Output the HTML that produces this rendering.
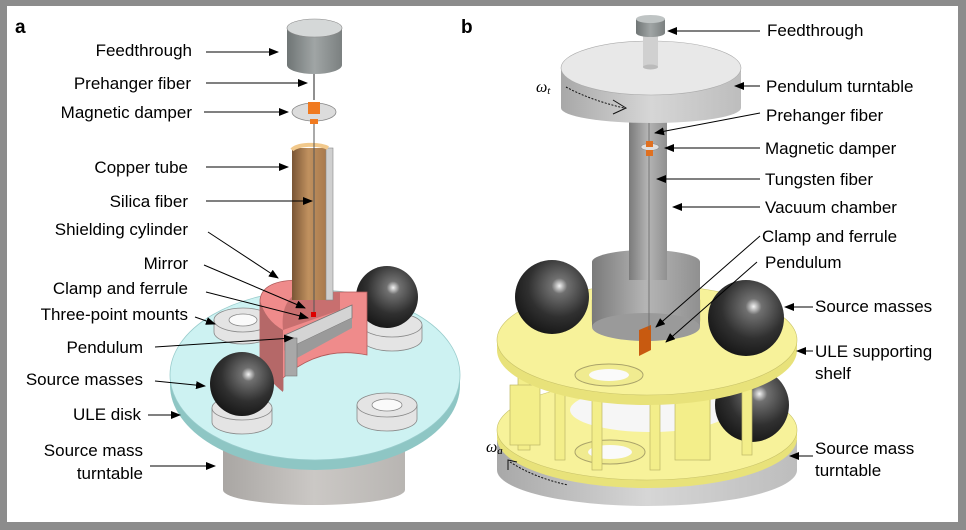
<!DOCTYPE html>
<html><head><meta charset="utf-8"><style>
html,body{margin:0;padding:0;background:#8c8c8c;}
svg{display:block;}
text{font-family:"Liberation Sans",sans-serif;font-size:17px;fill:#000;}
</style></head><body>
<svg width="966" height="530" viewBox="0 0 966 530" xmlns="http://www.w3.org/2000/svg">
<defs>
<marker id="ar" markerWidth="10" markerHeight="8" refX="9" refY="4" orient="auto" markerUnits="userSpaceOnUse"><path d="M0,0 L10,4 L0,8 z" fill="#000"/></marker>
<radialGradient id="sph" cx="0.6" cy="0.35" r="0.7"><stop offset="0" stop-color="#f4f4f4"/><stop offset="0.15" stop-color="#707070"/><stop offset="0.6" stop-color="#303030"/><stop offset="1" stop-color="#151515"/></radialGradient>
<linearGradient id="gcyl" x1="0" x2="1"><stop offset="0" stop-color="#6f7575"/><stop offset="0.5" stop-color="#a0a5a5"/><stop offset="1" stop-color="#7b8080"/></linearGradient>
<linearGradient id="gside" x1="0" x2="1"><stop offset="0" stop-color="#a8a8a8"/><stop offset="0.5" stop-color="#d6d6d6"/><stop offset="1" stop-color="#bdbdbd"/></linearGradient>
<linearGradient id="gbase" x1="0" x2="1"><stop offset="0" stop-color="#a9a6a3"/><stop offset="0.5" stop-color="#cbc8c5"/><stop offset="1" stop-color="#b8b5b2"/></linearGradient>
<linearGradient id="gtube" x1="0" x2="1"><stop offset="0" stop-color="#7a7a7a"/><stop offset="0.5" stop-color="#b5b5b5"/><stop offset="1" stop-color="#909090"/></linearGradient>
<linearGradient id="gcu" x1="0" x2="1"><stop offset="0" stop-color="#7a5535"/><stop offset="0.4" stop-color="#c0915f"/><stop offset="1" stop-color="#a07045"/></linearGradient>
</defs>
<rect x="7" y="6" width="951" height="516" fill="#fff"/>

<!-- ===== Panel a ===== -->
<text x="15" y="33" style="font-weight:bold;font-size:19px">a</text>
<path d="M223,415 L223,490 A91,15 0 0 0 405,490 L405,415 z" fill="url(#gbase)"/>
<path d="M170,375 L170,385 A145,85 0 0 0 460,385 L460,375 z" fill="#8ec6c4"/>
<ellipse cx="315" cy="375" rx="145" ry="85" fill="#cdf2f2" stroke="#9cc" stroke-width="0.8"/>
<g fill="#e4e4e4" stroke="#888" stroke-width="0.8">
<path d="M214,320 v12 a29,12 0 0 0 58,0 v-12 z"/><ellipse cx="243" cy="320" rx="29" ry="12"/><ellipse cx="243" cy="320" rx="14" ry="6" fill="#fafafa"/>
<path d="M362,325 v14 a30,12 0 0 0 60,0 v-14 z"/><ellipse cx="392" cy="325" rx="30" ry="12"/>
<path d="M212,408 v14 a30,12 0 0 0 60,0 v-14 z"/><ellipse cx="242" cy="408" rx="30" ry="12"/>
<path d="M357,405 v14 a30,12 0 0 0 60,0 v-14 z"/><ellipse cx="387" cy="405" rx="30" ry="12"/><ellipse cx="387" cy="405" rx="15" ry="6" fill="#fafafa"/>
</g>
<circle cx="387" cy="297" r="31" fill="url(#sph)"/>
<path d="M260,300 Q262,280 300,280 L300,292 L367,292 L367,355 Q320,345 283,378 L283,390 Q265,375 260,360 z" fill="#ef8b8b" stroke="#b05a5a" stroke-width="0.8"/>
<path d="M260,300 L260,360 Q265,378 283,392 L283,330 Q265,320 260,300 z" fill="#b56868"/>
<path d="M300,292 Q280,300 283,330 L340,310 L340,292 z" fill="#c86f6f"/>
<path d="M292,148 L292,300 L333,300 L333,148 z" fill="url(#gcu)"/>
<rect x="326" y="148" width="7" height="152" fill="#cfcfcf" stroke="#888" stroke-width="0.6"/>
<path d="M292,150 A20,7 0 0 1 328,148" fill="none" stroke="#f2c98c" stroke-width="4"/>
<line x1="314" y1="120" x2="314" y2="315" stroke="#555" stroke-width="1"/>
<path d="M285,335 L352,305 L352,318 L285,350 z" fill="#d4d4d4" stroke="#777" stroke-width="0.8"/>
<path d="M285,350 L352,318 L352,328 L297,358 L285,375 z" fill="#9a9a9a"/>
<rect x="285" y="338" width="12" height="38" fill="#a8a8a8" stroke="#777" stroke-width="0.6"/>
<rect x="311" y="312" width="5" height="5" fill="#d00"/>
<circle cx="242" cy="384" r="32" fill="url(#sph)"/>
<path d="M287,28 L287,65 A27.5,9 0 0 0 342,65 L342,28 z" fill="url(#gcyl)"/>
<ellipse cx="314.5" cy="28" rx="27.5" ry="9" fill="#d5d8d8" stroke="#888" stroke-width="0.6"/>
<line x1="314" y1="74" x2="314" y2="100" stroke="#222" stroke-width="1"/>
<ellipse cx="314" cy="112" rx="22" ry="9" fill="#dcdcdc" stroke="#888" stroke-width="0.8"/>
<rect x="308" y="102" width="12" height="12" fill="#f07a20"/>
<rect x="310" y="119" width="8" height="5" fill="#f07a20"/>

<g text-anchor="end">
<text x="192" y="56">Feedthrough</text>
<text x="191" y="89">Prehanger fiber</text>
<text x="192" y="118">Magnetic damper</text>
<text x="188" y="173">Copper tube</text>
<text x="188" y="207">Silica fiber</text>
<text x="188" y="235">Shielding cylinder</text>
<text x="188" y="269">Mirror</text>
<text x="188" y="294">Clamp and ferrule</text>
<text x="188" y="320">Three-point mounts</text>
<text x="143" y="353">Pendulum</text>
<text x="143" y="385">Source masses</text>
<text x="141" y="420">ULE disk</text>
<text x="143" y="456">Source mass</text>
<text x="143" y="479">turntable</text>
</g>
<g stroke="#000" stroke-width="1" marker-end="url(#ar)">
<line x1="206" y1="52" x2="278" y2="52"/>
<line x1="206" y1="83" x2="307" y2="83"/>
<line x1="204" y1="112" x2="288" y2="112"/>
<line x1="206" y1="167" x2="288" y2="167"/>
<line x1="206" y1="201" x2="312" y2="201"/>
<line x1="208" y1="232" x2="278" y2="278"/>
<line x1="204" y1="265" x2="305" y2="308"/>
<line x1="206" y1="292" x2="308" y2="318"/>
<line x1="195" y1="317" x2="215" y2="324"/>
<line x1="155" y1="347" x2="293" y2="338"/>
<line x1="155" y1="381" x2="205" y2="386"/>
<line x1="148" y1="415" x2="180" y2="415"/>
<line x1="150" y1="466" x2="215" y2="466"/>
</g>

<!-- ===== Panel b ===== -->
<text x="461" y="33" style="font-weight:bold;font-size:19px">b</text>
<path d="M497,440 L497,470 A150,36 0 0 0 797,470 L797,440 z" fill="url(#gside)"/>
<path d="M497,430 L497,438 A150,50 0 0 0 797,438 L797,430 z" fill="#e8e27a"/>
<ellipse cx="647" cy="430" rx="150" ry="50" fill="#f7f29a" stroke="#c9c36a" stroke-width="0.6"/>
<ellipse cx="610" cy="452" rx="35" ry="12" fill="#f0eb90" stroke="#aaa36a"/>
<ellipse cx="610" cy="452" rx="22" ry="7" fill="#fafafa"/>
<ellipse cx="650" cy="410" rx="80" ry="22" fill="#f6f6f6"/>
<circle cx="752" cy="405" r="37" fill="url(#sph)"/>
<g fill="#f3ee8a" stroke="#bdb765" stroke-width="0.7">
<rect x="518" y="365" width="12" height="85"/><rect x="555" y="375" width="10" height="85"/>
<rect x="592" y="385" width="10" height="85"/><rect x="650" y="385" width="10" height="85"/>
<rect x="700" y="375" width="10" height="85"/><rect x="742" y="370" width="10" height="85"/>
<rect x="675" y="390" width="35" height="70"/><rect x="510" y="385" width="30" height="60"/>
</g>
<path d="M592,262 L592,365 L700,365 L700,262 A54,12 0 0 0 592,262 z" fill="url(#gtube)"/>
<path d="M497,340 L497,350 A150,55 0 0 0 797,350 L797,340 z" fill="#e8e27a"/>
<path d="M497,340 A150,55 0 0 0 797,340 A150,55 0 0 0 497,340 z M592,320 A54,20 0 0 0 700,320 L700,300 L592,300 z" fill="#f7f29a" stroke="#c9c36a" stroke-width="0.6" fill-rule="evenodd"/>
<rect x="592" y="262" width="108" height="65" fill="url(#gtube)"/>
<ellipse cx="646" cy="327" rx="54" ry="14" fill="#9a9a9a"/>
<ellipse cx="609" cy="375" rx="34" ry="11" fill="#f0eb90" stroke="#aaa36a"/>
<ellipse cx="609" cy="375" rx="20" ry="6" fill="#fafafa"/>
<path d="M639,330 L651,325 L651,350 L639,356 z" fill="#c85a10"/>
<circle cx="552" cy="297" r="37" fill="url(#sph)"/>
<circle cx="746" cy="318" r="38" fill="url(#sph)"/>
<rect x="629" y="118" width="38" height="162" fill="url(#gtube)"/>
<line x1="649" y1="120" x2="649" y2="330" stroke="#666" stroke-width="0.8"/>
<ellipse cx="650" cy="147" rx="9" ry="3.5" fill="#e0e0e0" stroke="#888" stroke-width="0.6"/>
<rect x="646" y="141" width="7" height="6" fill="#e07020"/><rect x="646" y="150" width="7" height="6" fill="#e07020"/>
<path d="M561,68 L561,108 A90,15 0 0 0 741,108 L741,68 z" fill="url(#gside)"/>
<ellipse cx="651" cy="68" rx="90" ry="27" fill="#e8e8e8" stroke="#aaa" stroke-width="0.6"/>
<rect x="643" y="25" width="15" height="42" fill="#d0d0d0"/>
<ellipse cx="650.5" cy="67" rx="7.5" ry="2.5" fill="#bbb"/>
<path d="M636,19 L636,33 A14.5,4 0 0 0 665,33 L665,19 z" fill="url(#gcyl)"/>
<ellipse cx="650.5" cy="19" rx="14.5" ry="4" fill="#bfc4c4"/>
<path d="M566,87 Q590,100 624,108" fill="none" stroke="#111" stroke-width="1" stroke-dasharray="2,1.5"/>
<path d="M613,100 L626,108 L613,114" fill="none" stroke="#111" stroke-width="1"/>
<path d="M510,462 Q535,478 568,485" fill="none" stroke="#111" stroke-width="1" stroke-dasharray="2,1.5"/>
<path d="M508,470 L508,460 L517,462" fill="none" stroke="#111" stroke-width="1"/>
<text x="536" y="92" style="font-family:'Liberation Serif',serif;font-style:italic;font-size:16px">ω<tspan font-size="11" dy="2">t</tspan></text>
<text x="486" y="452" style="font-family:'Liberation Serif',serif;font-style:italic;font-size:16px">ω<tspan font-size="11" dy="2">a</tspan></text>

<text x="767" y="36">Feedthrough</text>
<text x="766" y="92">Pendulum turntable</text>
<text x="766" y="121">Prehanger fiber</text>
<text x="765" y="154">Magnetic damper</text>
<text x="765" y="185">Tungsten fiber</text>
<text x="765" y="213">Vacuum chamber</text>
<text x="762" y="242">Clamp and ferrule</text>
<text x="765" y="268">Pendulum</text>
<text x="815" y="312">Source masses</text>
<text x="815" y="357">ULE supporting</text>
<text x="815" y="379">shelf</text>
<text x="815" y="454">Source mass</text>
<text x="815" y="476">turntable</text>
<g stroke="#000" stroke-width="1" marker-end="url(#ar)">
<line x1="760" y1="31" x2="668" y2="31"/>
<line x1="760" y1="86" x2="735" y2="86"/>
<line x1="760" y1="113" x2="655" y2="133"/>
<line x1="760" y1="148" x2="665" y2="148"/>
<line x1="760" y1="179" x2="657" y2="179"/>
<line x1="760" y1="207" x2="673" y2="207"/>
<line x1="760" y1="236" x2="656" y2="327"/>
<line x1="757" y1="262" x2="666" y2="342"/>
<line x1="813" y1="307" x2="785" y2="307"/>
<line x1="813" y1="351" x2="797" y2="351"/>
<line x1="813" y1="456" x2="790" y2="456"/>
</g>
</svg>
</body></html>
